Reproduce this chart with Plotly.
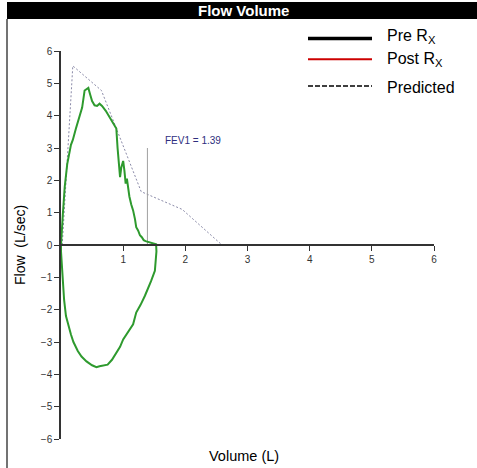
import plotly.graph_objects as go

# ---- data ----
flow_x = [0, 0.01, 0.03, 0.06, 0.10, 0.16, 0.19, 0.24, 0.30, 0.34, 0.38, 0.41, 0.44, 0.47, 0.50, 0.54,
          0.58, 0.62, 0.66, 0.72, 0.78, 0.84, 0.89, 0.91, 0.93, 0.95, 0.97, 1.00, 1.02, 1.04, 1.06,
          1.08, 1.10, 1.13, 1.16, 1.19, 1.21, 1.24, 1.27, 1.30, 1.33, 1.36, 1.39, 1.43, 1.47, 1.50, 1.53,
          1.535, 1.52, 1.51, 1.45, 1.40, 1.35, 1.28, 1.21, 1.16, 1.08, 1.00, 0.95, 0.89, 0.82, 0.75,
          0.67, 0.62, 0.57, 0.50, 0.41, 0.33, 0.27, 0.20, 0.16, 0.12, 0.08, 0.05, 0.03, 0.01, 0.0, 0.0]
flow_y = [0, 0.5, 0.96, 1.8, 2.5, 3.1, 3.25, 3.6, 3.95, 4.25, 4.78, 4.83, 4.86, 4.65, 4.45, 4.32,
          4.30, 4.37, 4.30, 4.15, 3.96, 3.78, 3.60, 3.0, 2.4, 2.1, 2.4, 2.6, 2.3, 1.9, 2.05,
          1.7, 1.5, 1.25, 1.07, 0.8, 0.55, 0.45, 0.3, 0.24, 0.15, 0.12, 0.10, 0.08, 0.05, 0.03, 0.02,
          -0.2, -0.5, -0.8, -1.11, -1.35, -1.57, -1.85, -2.09, -2.45, -2.7, -2.92, -3.15, -3.34, -3.55, -3.7,
          -3.72, -3.75, -3.78, -3.72, -3.6, -3.45, -3.28, -3.0, -2.77, -2.5, -2.2, -1.7, -1.21, -0.6, -0.2, 0.0]

pred_x = [0.02, 0.19, 0.65, 1.29, 1.95, 2.59]
pred_y = [0.0, 5.54, 4.78, 1.65, 1.10, 0.0]

fev1 = 1.39
fev1_top = 3.0

x_ticks = [1, 2, 3, 4, 5, 6]
y_ticks = [-6, -5, -4, -3, -2, -1, 0, 1, 2, 3, 4, 5, 6]

legend_labels = ["Pre R<sub>X</sub>", "Post R<sub>X</sub>", "Predicted"]

FONT = "Arial, Liberation Sans, sans-serif"
W, H = 477, 468
ML, MR, MT, MB = 61, 43, 51, 29
PW, PH = W - ML - MR, H - MT - MB


def px(x):
    return (x - ML) / PW


def py(y):
    return 1 - (y - MT) / PH


fig = go.Figure()
fig.add_trace(go.Scatter(x=pred_x, y=pred_y, mode="lines",
                         line=dict(color="#8a8aa8", width=1, dash="2px,2px"), showlegend=False))
fig.add_trace(go.Scatter(x=[fev1, fev1], y=[0, fev1_top], mode="lines",
                         line=dict(color="#a0a0a0", width=1), showlegend=False))
fig.add_trace(go.Scatter(x=flow_x, y=flow_y, mode="lines",
                         line=dict(color="#2e9a2e", width=2), showlegend=False))

shapes = []
# title bar
shapes.append(dict(type="rect", xref="paper", yref="paper", x0=px(7), x1=px(477), y0=py(19), y1=py(2),
                   fillcolor="black", line=dict(width=0), layer="above"))
# left border
shapes.append(dict(type="line", xref="paper", yref="paper", x0=px(7), x1=px(7), y0=py(19), y1=py(470),
                   line=dict(color="#444", width=1.5)))
# legend lines
leg_y = [38.6, 59.3, 86]
leg_styles = [dict(color="black", width=3.5), dict(color="#cc0000", width=2),
              dict(color="black", width=1.5, dash="5px,2px")]
for yy, st in zip(leg_y, leg_styles):
    shapes.append(dict(type="line", xref="paper", yref="paper", x0=px(308), x1=px(372),
                       y0=py(yy), y1=py(yy), line=st))

annotations = [
    dict(text="<b>Flow Volume</b>", xref="paper", yref="paper", x=px(243), y=py(11), showarrow=False,
         font=dict(family=FONT, size=15, color="white"), xanchor="center", yanchor="middle"),
    dict(text="FEV1 = 1.39", x=1.64, y=3.22, showarrow=False, xanchor="left", yanchor="middle",
         font=dict(family=FONT, size=10, color="#2e2e7e")),
    dict(text="Volume (L)", xref="paper", yref="paper", x=px(244), y=py(456), showarrow=False,
         font=dict(family=FONT, size=14.5, color="black"), xanchor="center", yanchor="middle"),
    dict(text="Flow  (L/sec)", xref="paper", yref="paper", x=px(20), y=py(245), showarrow=False,
         textangle=-90, font=dict(family=FONT, size=14, color="black"), xanchor="center", yanchor="middle"),
]
leg_text_y = [37, 59, 87]
for yy, lab in zip(leg_text_y, legend_labels):
    annotations.append(dict(text=lab, xref="paper", yref="paper", x=px(385), y=py(yy), showarrow=False,
                            xanchor="left", yanchor="middle", font=dict(family=FONT, size=16, color="black")))

fig.update_layout(
    width=W, height=H, margin=dict(l=ML, r=MR, t=MT, b=MB),
    paper_bgcolor="white", plot_bgcolor="white",
    shapes=shapes, annotations=annotations, showlegend=False,
    xaxis=dict(range=[0, 6], tickvals=x_ticks, ticks="outside", ticklen=5, tickcolor="#333",
               showline=True, linecolor="#333", linewidth=1.5, showgrid=False, zeroline=False,
               anchor="free", position=0.5, tickfont=dict(family=FONT, size=10, color="#333")),
    yaxis=dict(range=[-6, 6], tickvals=y_ticks, ticks="outside", ticklen=5, tickcolor="#333",
               showline=True, linecolor="#333", linewidth=1.5, showgrid=False, zeroline=False,
               tickfont=dict(family=FONT, size=10, color="#333")),
)

fig.write_html("out.html")
